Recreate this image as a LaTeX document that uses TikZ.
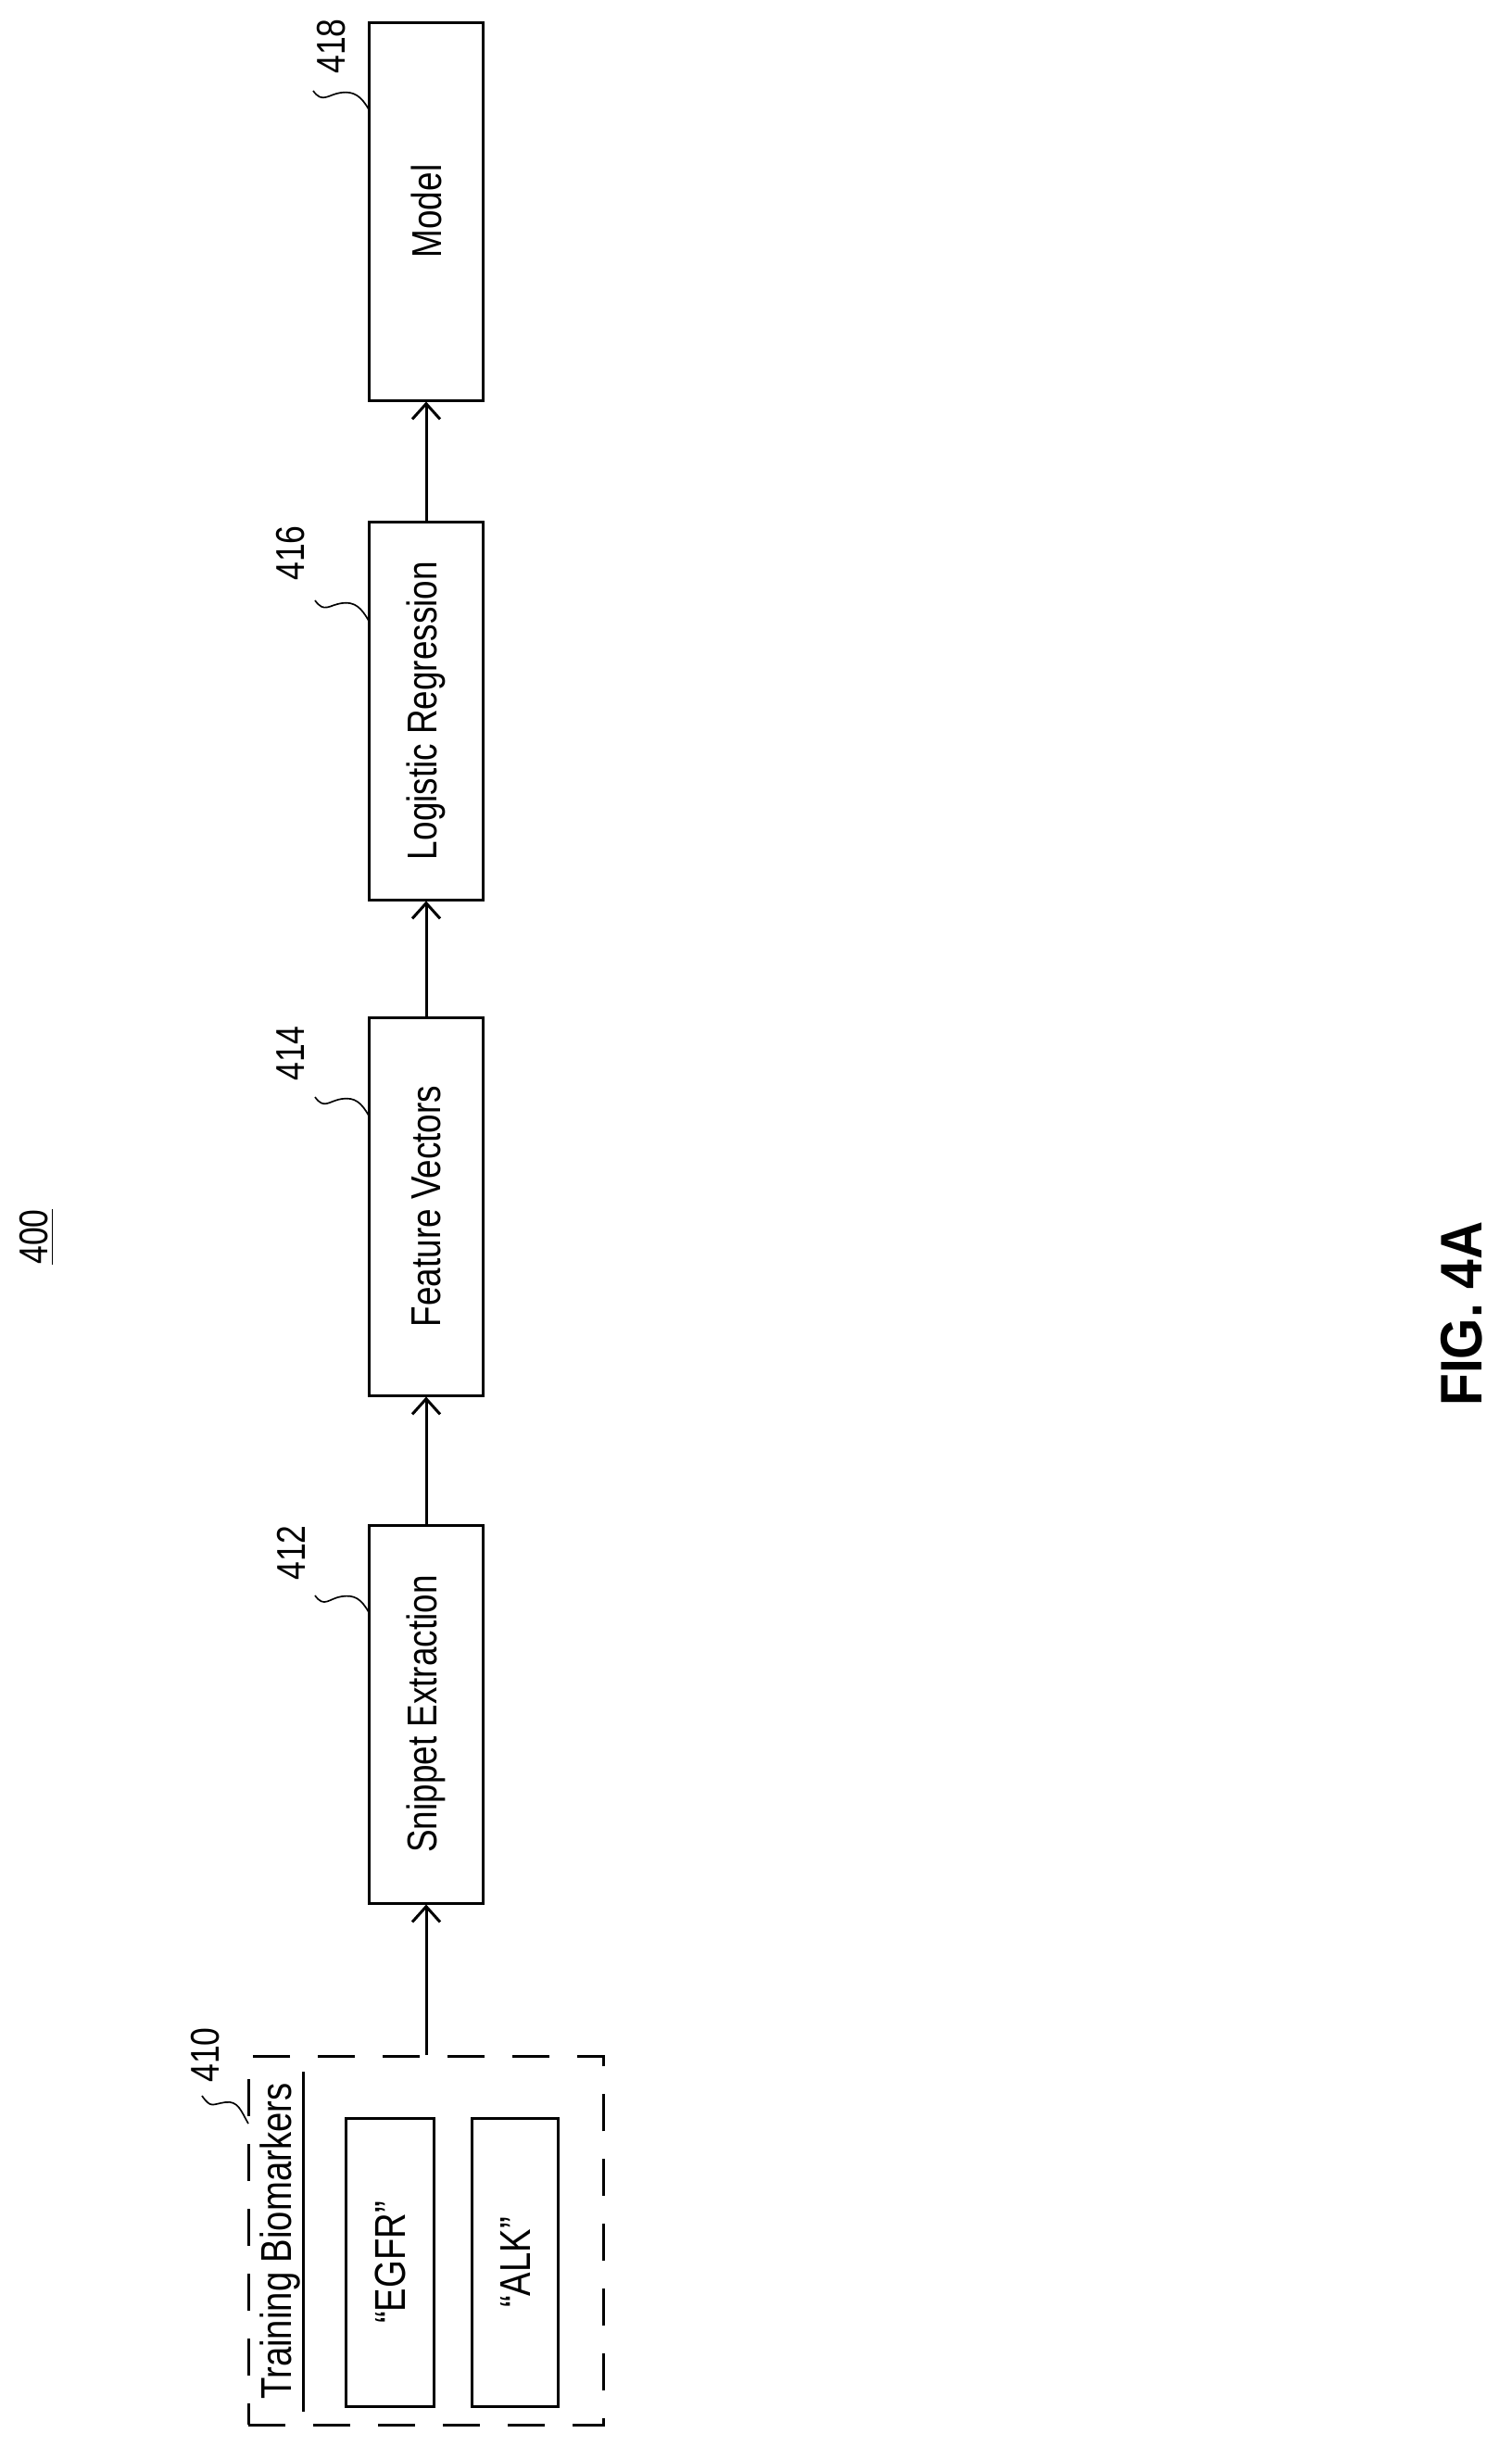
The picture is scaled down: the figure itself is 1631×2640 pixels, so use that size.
\documentclass[tikz,border=0pt]{standalone}
\usepackage{fontspec}
\setmainfont[FakeStretch=0.82]{Liberation Sans}
\newfontfamily\figfont[FakeStretch=0.9]{Liberation Sans}
\usetikzlibrary{arrows.meta,calc}
\begin{document}
\begin{tikzpicture}[x=0.3pt,y=-0.3pt,
  box/.style={draw,line width=0.9pt,minimum width=36.9pt,minimum height=122.4pt,inner sep=0pt,font=\fontsize{13.5}{16}\selectfont},
  sbox/.style={draw,line width=0.9pt,inner sep=0pt,font=\fontsize{13.5}{16}\selectfont},
  arr/.style={line width=0.9pt,-{Straight Barb[length=5pt,width=9pt]}},
  lbl/.style={rotate=90,inner sep=0pt,font=\fontsize{13}{15}\selectfont},
  sq/.style={line width=0.5pt}]
\useasboundingbox (0,0) rectangle (1631,2640);
\node[box] (model) at (460,228) {\rotatebox{90}{Model}};
\node[box] (lr) at (460,767) {\rotatebox{90}{Logistic Regression}};
\node[box] (fv) at (460,1302) {\rotatebox{90}{Feature Vectors}};
\node[box] (se) at (460,1850) {\rotatebox{90}{Snippet Extraction}};
\node[draw,dash pattern=on 12pt off 9pt,line width=0.9pt,minimum width=115pt,minimum height=119.4pt,inner sep=0pt] (tb) at (460,2418) {};
\node[sbox,minimum width=28.5pt,minimum height=93.3pt] (egfr) at (421,2442) {\rotatebox{90}{\fontsize{14}{16}\selectfont “EGFR”}};
\node[sbox,minimum width=27.9pt,minimum height=93.3pt] (alk) at (556,2442) {\rotatebox{90}{\fontsize{14}{16}\selectfont “ALK”}};
\node[rotate=90,inner sep=0pt,font=\fontsize{14}{16}\selectfont] (tbt) at (302,2419) {Training Biomarkers};
\coordinate (ul1) at (327,2236);
\coordinate (ul2) at (327,2603);
\draw[line width=0.9pt] (ul1) -- (ul2);
\draw[arr] (lr.north) -- (model.south);
\draw[arr] (fv.north) -- (lr.south);
\draw[arr] (se.north) -- (fv.south);
\draw[arr] (tb.north) -- (se.south);
% reference labels
\node[lbl] (l418) at (358,50) {418};
\node[lbl] (l416) at (314,597) {416};
\node[lbl] (l414) at (314,1137) {414};
\node[lbl] (l412) at (314,1676) {412};
\node[lbl] (l410) at (222,2218) {410};
\coordinate (s418) at (338,98);   \coordinate (e418) at (398,118);
\coordinate (s416) at (340,648);  \coordinate (e416) at (398,670);
\coordinate (s414) at (340,1184); \coordinate (e414) at (398,1204);
\coordinate (s412) at (340,1722); \coordinate (e412) at (398,1740);
\coordinate (s410) at (218,2262); \coordinate (e410) at (268,2292);
\foreach \n in {418,416,414,412,410}{
  \draw[sq] (s\n) .. controls +(10,14) and +(-14,2) .. ($(s\n)!0.5!(e\n)+(0,-8)$) .. controls +(14,-2) and +(-8,-14) .. (e\n);
}
\node[rotate=90,inner sep=0pt,font=\fontsize{13}{15}\selectfont] (n400) at (40,1335) {\underline{400}};
\node[rotate=90,inner sep=0pt,font=\figfont\bfseries\fontsize{19}{23}\selectfont] (fig) at (1578,1418) {FIG. 4A};
\end{tikzpicture}
\end{document}
